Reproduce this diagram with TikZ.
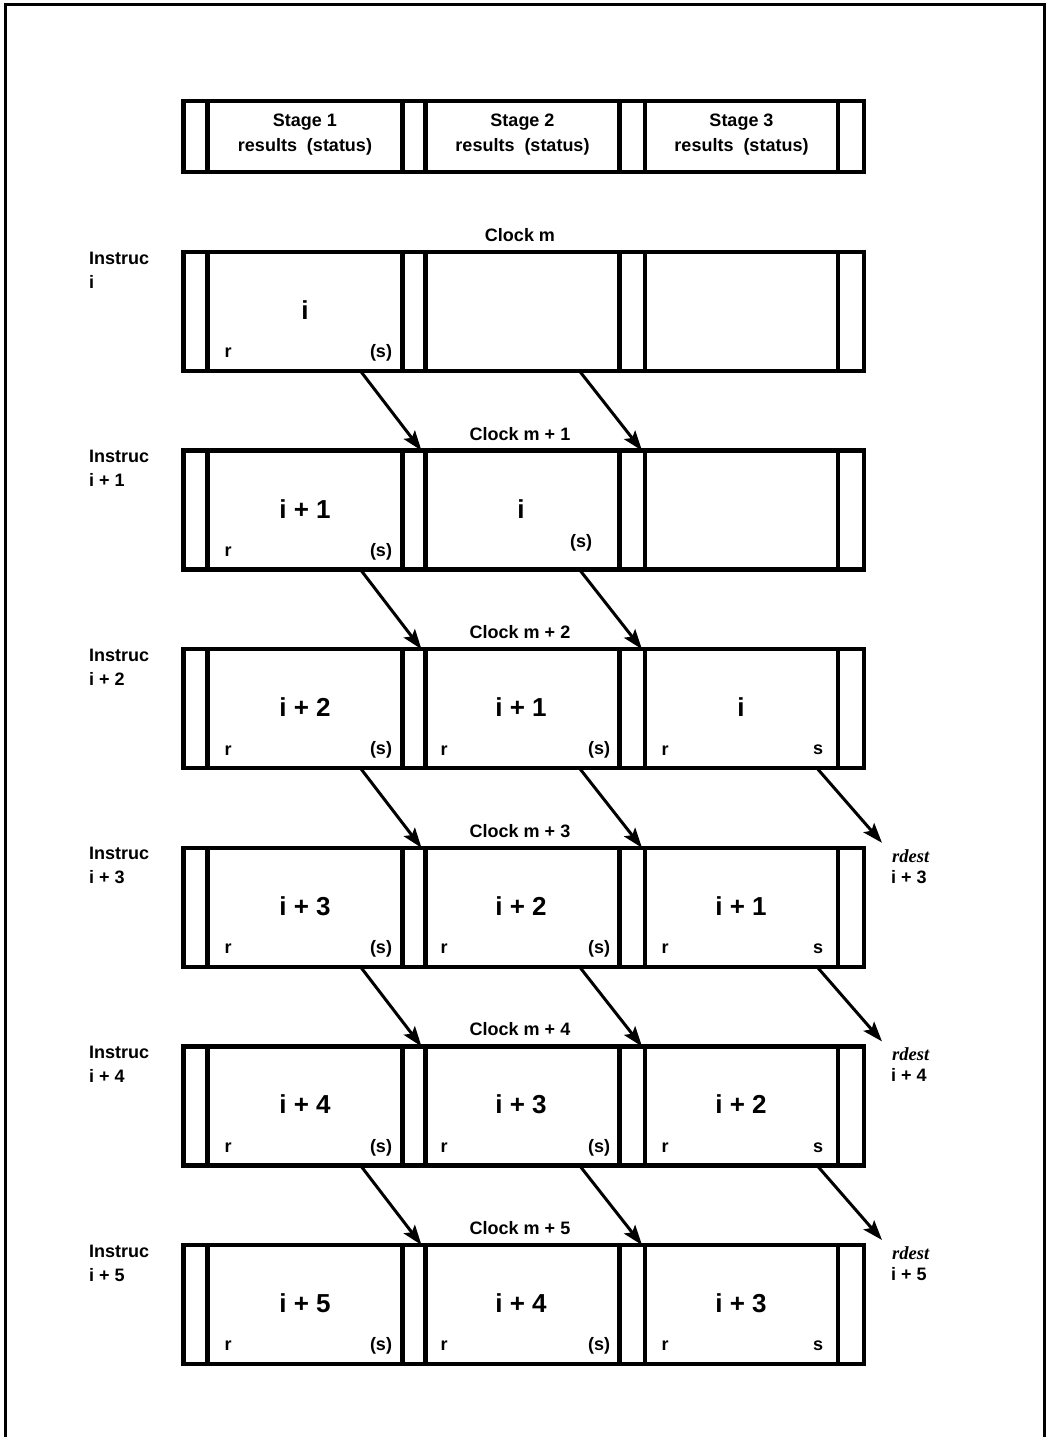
\documentclass[tikz,border=0pt]{standalone}
\usepackage{fontspec}
\setmainfont{Liberation Sans}
\newfontfamily\rdfont{Liberation Serif}
\usetikzlibrary{arrows.meta,calc}
\begin{document}
\begin{tikzpicture}[x=1pt,y=-1pt,
  rowbox/.style={draw,line width=4.5pt,rectangle,inner sep=0pt,outer sep=0pt,minimum width=680.5pt,minimum height=119pt},
  cell/.style={draw,line width=4.5pt,rectangle,inner sep=0pt,outer sep=0pt,minimum height=119pt},
  lab/.style={font=\bfseries\fontsize{18}{24}\selectfont,inner sep=0pt},
  big/.style={font=\bfseries\fontsize{26}{30}\selectfont,inner sep=0pt},
  rdl/.style={font=\rdfont\bfseries\itshape\fontsize{18.5}{22}\selectfont,inner sep=0pt,anchor=west},
  arr/.style={line width=3pt,-{Stealth[length=20pt,width=14pt,inset=4pt]}}]
\useasboundingbox (0,0) rectangle (1049,1437);
\fill[white] (0,0) rectangle (1049,1437);
% outer frame
\draw[line width=3pt] (5,1437) -- (5,5) -- (1044,5) -- (1044,1437);
% header
\node[rowbox,minimum height=71pt] (h) at (523.75,136.5) {};
\node[cell,minimum height=71pt,minimum width=195pt] (h-1) at (305,136.5) {};
\node[cell,minimum height=71pt,minimum width=194pt] (h-2) at (522.5,136.5) {};
\node[cell,minimum height=71pt,minimum width=193pt] (h-3) at (741.5,136.5) {};
\node[lab,align=center,font=\bfseries\fontsize{18}{25}\selectfont] (ht1) at (305,134.5) {Stage 1\\results\ \ (status)};
\node[lab,align=center,font=\bfseries\fontsize{18}{25}\selectfont] (ht2) at (522.5,134.5) {Stage 2\\results\ \ (status)};
\node[lab,align=center,font=\bfseries\fontsize{18}{25}\selectfont] (ht3) at (741.5,134.5) {Stage 3\\results\ \ (status)};
% rows
\foreach \k/\T in {1/252,2/450.6,3/649.2,4/847.8,5/1046.4,6/1245}{
  \node[rowbox] (b\k) at (523.75,\T+59.5) {};
  \node[cell,minimum width=195pt] (r\k-1) at (305,\T+59.5) {};
  \node[cell,minimum width=194pt] (r\k-2) at (522.5,\T+59.5) {};
  \node[cell,minimum width=193pt] (r\k-3) at (741.5,\T+59.5) {};
  \coordinate (d\k) at (882,\T-5);
}
% clock labels
\node[lab] (k1) at (520,235) {Clock m};
\node[lab] (k2) at (520,433.6) {Clock m + 1};
\node[lab] (k3) at (520,632.2) {Clock m + 2};
\node[lab] (k4) at (520,830.8) {Clock m + 3};
\node[lab] (k5) at (520,1029.4) {Clock m + 4};
\node[lab] (k6) at (520,1228) {Clock m + 5};
% instruction labels
\node[lab,align=left,anchor=west] (n1) at (89,270) {Instruc\\i};
\node[lab,align=left,anchor=west] (n2) at (89,468.6) {Instruc\\i + 1};
\node[lab,align=left,anchor=west] (n3) at (89,667.2) {Instruc\\i + 2};
\node[lab,align=left,anchor=west] (n4) at (89,865.8) {Instruc\\i + 3};
\node[lab,align=left,anchor=west] (n5) at (89,1064.4) {Instruc\\i + 4};
\node[lab,align=left,anchor=west] (n6) at (89,1263) {Instruc\\i + 5};
% row 1
\node[big] (v1a) at (305,310) {i};
\node[lab] (p1a) at (228,353) {r};
\node[lab] (q1a) at (381,353) {(s)};
% row 2
\node[big] (v2a) at (305,508.6) {i + 1};
\node[lab] (p2a) at (228,551.6) {r};
\node[lab] (q2a) at (381,551.6) {(s)};
\node[big] (v2b) at (521,508.6) {i};
\node[lab] (q2b) at (581,542.6) {(s)};
% rows 3-6
\foreach \k/\T/\a/\b/\c in {3/649.2/i + 2/i + 1/i, 4/847.8/i + 3/i + 2/i + 1, 5/1046.4/i + 4/i + 3/i + 2, 6/1245/i + 5/i + 4/i + 3}{
  \node[big] (v\k a) at (305,\T+58) {\a};
  \node[big] (v\k b) at (521,\T+58) {\b};
  \node[big] (v\k c) at (741,\T+58) {\c};
  \node[lab] (p\k a) at (228,\T+101) {r};
  \node[lab] (q\k a) at (381,\T+101) {(s)};
  \node[lab] (p\k b) at (444,\T+101) {r};
  \node[lab] (q\k b) at (599,\T+101) {(s)};
  \node[lab] (p\k c) at (665,\T+101) {r};
  \node[lab] (q\k c) at (818,\T+101) {s};
}
% rdest labels
\foreach \k/\T/\t in {4/847.8/i + 3, 5/1046.4/i + 4, 6/1245/i + 5}{
  \node[rdl] (rd\k) at (892,\T+8) {rdest};
  \node[lab,anchor=west] (ri\k) at (891,\T+29) {\t};
}
% arrows
\foreach \k/\n in {1/2,2/3,3/4,4/5,5/6}{
  \draw[arr] ([xshift=-42pt]r\k-1.south east) -- ([xshift=-4pt]r\n-2.north west);
  \draw[arr] ([xshift=-40pt]r\k-2.south east) -- ([xshift=-3pt]r\n-3.north west);
}
\foreach \k/\n in {3/4,4/5,5/6}{
  \draw[arr] ([xshift=-21pt]r\k-3.south east) -- (d\n);
}
\end{tikzpicture}
\end{document}
